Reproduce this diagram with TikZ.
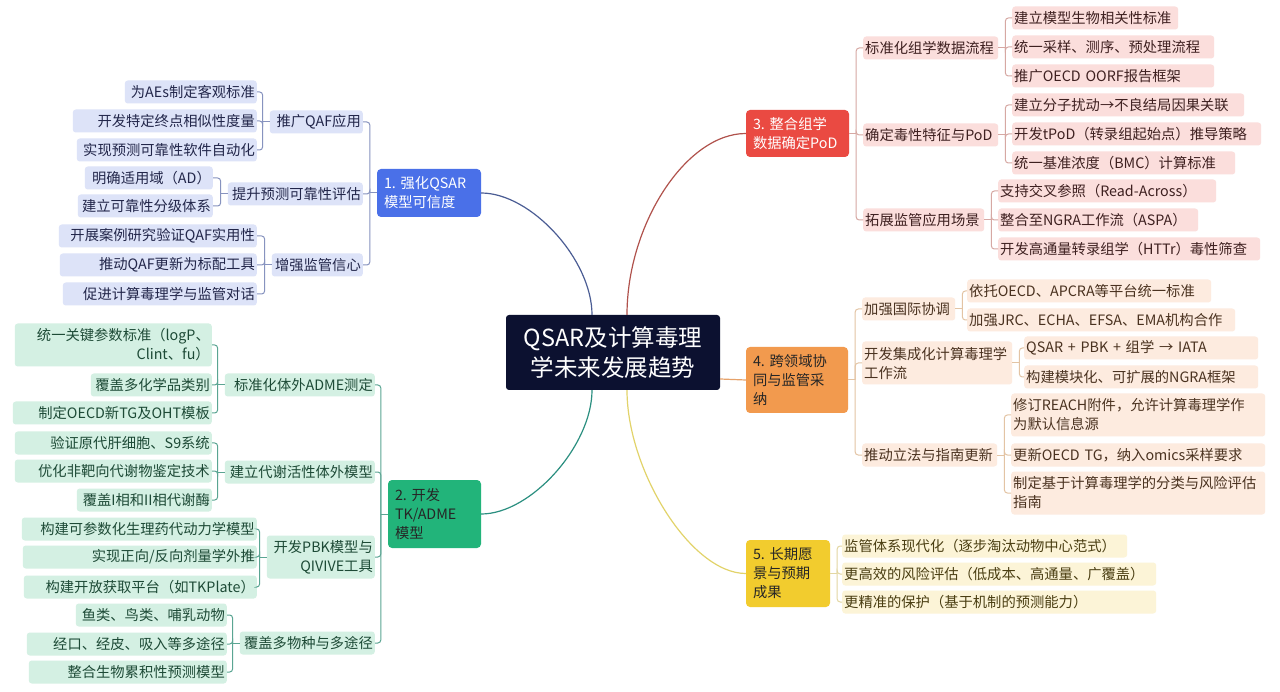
\documentclass[tikz,border=0pt]{standalone}
\usepackage{fontspec}
\setmainfont{Noto Sans CJK SC}
\usepackage{tikz}
\frenchspacing
\definecolor{rootc}{HTML}{0C1130}
\definecolor{bluem}{HTML}{4A70E8}
\definecolor{bluel}{HTML}{DDE3F8}
\definecolor{bluet}{HTML}{22264A}
\definecolor{bluec}{HTML}{4B5D94}
\definecolor{bluek}{HTML}{8793BF}
\definecolor{greenm}{HTML}{22B47A}
\definecolor{greenl}{HTML}{D4F0E3}
\definecolor{greent}{HTML}{1D4A36}
\definecolor{greenc}{HTML}{2B8F80}
\definecolor{greenk}{HTML}{5AA592}
\definecolor{redm}{HTML}{EA4A42}
\definecolor{redl}{HTML}{FBDEDC}
\definecolor{redt}{HTML}{3E2020}
\definecolor{redc}{HTML}{B0524C}
\definecolor{redk}{HTML}{D6A8A3}
\definecolor{orangem}{HTML}{F29A4E}
\definecolor{orangel}{HTML}{FDEBDF}
\definecolor{oranget}{HTML}{4A3220}
\definecolor{orangec}{HTML}{E6A26A}
\definecolor{orangek}{HTML}{E3C4A4}
\definecolor{yellowm}{HTML}{F2CC2E}
\definecolor{yellowl}{HTML}{FCF4D7}
\definecolor{yellowt}{HTML}{4A3E12}
\definecolor{yellowc}{HTML}{E2D36A}
\definecolor{yellowk}{HTML}{E3D7A2}

\begin{document}
\begin{tikzpicture}[x=1pt, y=-1pt,
    every node/.append style={font=\fontsize{14.3}{19}\selectfont},
    topic/.style={rounded corners=4pt, inner xsep=7pt, align=left},
    lbox/.style={anchor=east, align=right, rounded corners=3pt, inner xsep=2pt, inner ysep=2pt, minimum height=23pt},
    rbox/.style={anchor=west, align=left, rounded corners=3pt, inner xsep=2pt, inner ysep=2pt, minimum height=23pt},
    b1/.style={fill=bluel, text=bluet},
    b2/.style={fill=greenl, text=greent},
    b3/.style={fill=redl, text=redt},
    b4/.style={fill=orangel, text=oranget},
    b5/.style={fill=yellowl, text=yellowt}]
    \fill[white] (0,0) rectangle (1280,692);
    \useasboundingbox (0,0) rectangle (1280,692);

    % Centre
    \node[fill=rootc, text=white, rounded corners=3pt, font=\fontsize{23.5}{30}\selectfont, align=center,
        minimum width=214pt, minimum height=75pt] (root) at (613,352.5) {QSAR及计算毒理\\学未来发展趋势};

    % Main topics
    \node[topic, fill=bluem, text=white, text width=90pt, minimum height=48pt] (m1) at (429,193) {1. 强化QSAR\\模型可信度};
    \node[topic, fill=greenm, text=black!85, text width=79pt, minimum height=68pt] (m2) at (434.5,514) {2. 开发\\TK/ADME\\模型};
    \node[topic, fill=redm, text=white, text width=89pt, minimum height=47pt] (m3) at (797.5,133.5) {3. 整合组学\\数据确定PoD};
    \node[topic, fill=orangem, text=black!85, text width=88pt, minimum height=66pt] (m4) at (797,380) {4. 跨领域协\\同与监管采\\纳};
    \node[topic, fill=yellowm, text=black!85, text width=70pt, minimum height=67pt] (m5) at (788,573.5) {5. 长期愿\\景与预期\\成果};

    % Branch 1
    \node[lbox, b1, text width=89pt] (s11) at (363,122) {推广QAF应用};
    \node[lbox, b1, text width=131pt] (s12) at (363,194) {提升预测可靠性评估};
    \node[lbox, b1, text width=87pt] (s13) at (363,265) {增强监管信心};
    \node[lbox, b1, text width=128pt] (l111) at (257,92) {为AEs制定客观标准};
    \node[lbox, b1, text width=180pt] (l112) at (257,121) {开发特定终点相似性度量};
    \node[lbox, b1, text width=176pt] (l113) at (257,150) {实现预测可靠性软件自动化};
    \node[lbox, b1, text width=124pt] (l121) at (213,178) {明确适用域（AD）};
    \node[lbox, b1, text width=131pt] (l122) at (213,206) {建立可靠性分级体系};
    \node[lbox, b1, text width=194pt] (l131) at (257,236) {开展案例研究验证QAF实用性};
    \node[lbox, b1, text width=193pt] (l132) at (257,265) {推动QAF更新为标配工具};
    \node[lbox, b1, text width=190pt] (l133) at (257,294) {促进计算毒理学与监管对话};

    % Branch 2
    \node[lbox, b2, text width=146pt] (s21) at (375,385) {标准化体外ADME测定};
    \node[lbox, b2, text width=146pt] (s22) at (375,472) {建立代谢活性体外模型};
    \node[lbox, b2, text width=104pt, minimum height=43pt] (s23) at (375,557) {开发PBK模型与\\QIVIVE工具};
    \node[lbox, b2, text width=131pt] (s24) at (375,643) {覆盖多物种与多途径};
    \node[lbox, b2, text width=193pt, minimum height=43pt] (l211) at (212,345) {统一关键参数标准（logP、\\Clint、fu）};
    \node[lbox, b2, text width=117pt] (l212) at (212,385) {覆盖多化学品类别};
    \node[lbox, b2, text width=195pt] (l213) at (212,413) {制定OECD新TG及OHT模板};
    \node[lbox, b2, text width=193pt] (l221) at (212,443) {验证原代肝细胞、S9系统};
    \node[lbox, b2, text width=193pt] (l222) at (212,471) {优化非靶向代谢物鉴定技术};
    \node[lbox, b2, text width=131pt] (l223) at (212,500) {覆盖I相和II相代谢酶};
    \node[lbox, b2, text width=231pt] (l231) at (257,529) {构建可参数化生理药代动力学模型};
    \node[lbox, b2, text width=230pt] (l232) at (257,557) {实现正向/反向剂量学外推};
    \node[lbox, b2, text width=229pt] (l233) at (257,587) {构建开放获取平台（如TKPlate）};
    \node[lbox, b2, text width=147pt] (l241) at (227,615) {鱼类、鸟类、哺乳动物};
    \node[lbox, b2, text width=196pt] (l242) at (227,644) {经口、经皮、吸入等多途径};
    \node[lbox, b2, text width=194pt] (l243) at (227,672) {整合生物累积性预测模型};

    % Branch 3
    \node[rbox, b3, text width=131pt] (s31) at (863,48) {标准化组学数据流程};
    \node[rbox, b3, text width=131pt] (s32) at (863,135) {确定毒性特征与PoD};
    \node[rbox, b3, text width=117pt] (s33) at (863,220) {拓展监管应用场景};
    \node[rbox, b3, text width=162pt] (l311) at (1012,18) {建立模型生物相关性标准};
    \node[rbox, b3, text width=198pt] (l312) at (1012,47) {统一采样、测序、预处理流程};
    \node[rbox, b3, text width=198pt] (l313) at (1012,76) {推广OECD~OORF报告框架};
    \node[rbox, b3, text width=228pt] (l321) at (1012,105) {建立分子扰动→不良结局因果关联};
    \node[rbox, b3, text width=245pt] (l322) at (1012,134) {开发tPoD（转录组起始点）推导策略};
    \node[rbox, b3, text width=219pt] (l323) at (1012,163) {统一基准浓度（BMC）计算标准};
    \node[rbox, b3, text width=214pt] (l331) at (998,191) {支持交叉参照（Read-Across）};
    \node[rbox, b3, text width=196pt] (l332) at (998,220) {整合至NGRA工作流（ASPA）};
    \node[rbox, b3, text width=258pt] (l333) at (998,249) {开发高通量转录组学（HTTr）毒性筛查};

    % Branch 4
    \node[rbox, b4, text width=89pt] (s41) at (862,309) {加强国际协调};
    \node[rbox, b4, text width=146pt, minimum height=43pt] (s42) at (862,363) {开发集成化计算毒理学\\工作流};
    \node[rbox, b4, text width=131pt] (s43) at (862,455) {推动立法与指南更新};
    \node[rbox, b4, text width=240pt] (l411) at (967,291) {依托OECD、APCRA等平台统一标准};
    \node[rbox, b4, text width=264pt] (l412) at (967,320) {加强JRC、ECHA、EFSA、EMA机构合作};
    \node[rbox, b4, text width=230pt] (l421) at (1024,348) {QSAR~+~PBK~+~组学~→~IATA};
    \node[rbox, b4, text width=230pt] (l422) at (1024,377) {构建模块化、可扩展的NGRA框架};
    \node[rbox, b4, text width=250pt, minimum height=43pt] (l431) at (1011,415) {修订REACH附件，允许计算毒理学作\\为默认信息源};
    \node[rbox, b4, text width=250pt] (l432) at (1011,455) {更新OECD~TG，纳入omics采样要求};
    \node[rbox, b4, text width=250pt, minimum height=43pt] (l433) at (1011,493) {制定基于计算毒理学的分类与风险评估\\指南};

    % Branch 5
    \node[rbox, b5, text width=281pt] (l51) at (842,546) {监管体系现代化（逐步淘汰动物中心范式）};
    \node[rbox, b5, text width=310pt] (l52) at (842,574) {更高效的风险评估（低成本、高通量、广覆盖）};
    \node[rbox, b5, text width=310pt] (l53) at (842,602) {更精准的保护（基于机制的预测能力）};

    % Curves from the centre
    \draw[bluec, line width=1.2pt] ([xshift=-21pt]root.north) .. controls +(0,-55) and +(50,0) .. (m1.east);
    \draw[redc, line width=1.2pt] ([xshift=14pt]root.north) .. controls +(0,-90) and +(-60,0) .. (m3.west);
    \draw[greenc, line width=1.2pt] ([xshift=-21pt]root.south) .. controls +(0,55) and +(50,0) .. (m2.east);
    \draw[yellowc, line width=1.2pt] ([xshift=14pt]root.south) .. controls +(0,80) and +(-55,0) .. (m5.west);
    \draw[orangec, line width=1.2pt] ([yshift=-26.5pt]root.east) -- (m4.west);

    % Brackets, left side
    \foreach \p/\c/\k in {m1/s11/bluek, m1/s12/bluek, m1/s13/bluek, s11/l111/bluek, s11/l112/bluek, s11/l113/bluek,
        s12/l121/bluek, s12/l122/bluek, s13/l131/bluek, s13/l132/bluek, s13/l133/bluek,
        m2/s21/greenk, m2/s22/greenk, m2/s23/greenk, m2/s24/greenk, s21/l211/greenk, s21/l212/greenk, s21/l213/greenk,
        s22/l221/greenk, s22/l222/greenk, s22/l223/greenk, s23/l231/greenk, s23/l232/greenk, s23/l233/greenk,
        s24/l241/greenk, s24/l242/greenk, s24/l243/greenk} {
        \draw[color=\k, line width=1pt] (\p.west) -- ++(-7,0);
        \draw[color=\k, line width=1pt, rounded corners=3pt] (\p.west) ++(-7,0) |- (\c.east);
    }

    % Brackets, right side
    \foreach \p/\c/\k in {m3/s31/redk, m3/s32/redk, m3/s33/redk, s31/l311/redk, s31/l312/redk, s31/l313/redk,
        s32/l321/redk, s32/l322/redk, s32/l323/redk, s33/l331/redk, s33/l332/redk, s33/l333/redk,
        m4/s41/orangek, m4/s42/orangek, m4/s43/orangek, s41/l411/orangek, s41/l412/orangek,
        s42/l421/orangek, s42/l422/orangek, s43/l431/orangek, s43/l432/orangek, s43/l433/orangek,
        m5/l51/yellowk, m5/l52/yellowk, m5/l53/yellowk} {
        \draw[color=\k, line width=1pt] (\p.east) -- ++(7,0);
        \draw[color=\k, line width=1pt, rounded corners=3pt] (\p.east) ++(7,0) |- (\c.west);
    }
\end{tikzpicture}
\end{document}
